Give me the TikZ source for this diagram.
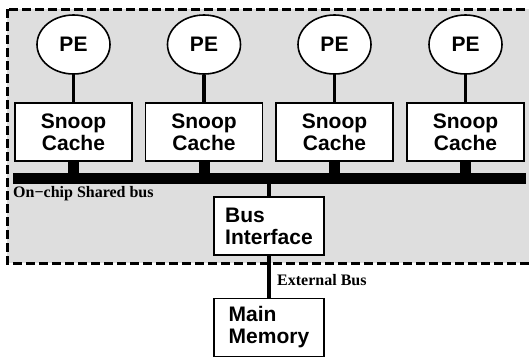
\documentclass[tikz,border=0pt]{standalone}
\usepackage{fontspec}
\setmainfont{Liberation Serif}
\setsansfont{Liberation Sans}
\usetikzlibrary{shapes.geometric}
\definecolor{chipgray}{RGB}{222,222,222}
\begin{document}
\begin{tikzpicture}[x=1bp, y=-1bp,
    pe node/.style={ellipse, draw, line width=1.6bp, fill=white, minimum width=73bp, minimum height=59bp, inner sep=0pt, font=\sffamily\bfseries\fontsize{21bp}{22bp}\selectfont},
    unit box/.style={rectangle, draw, line width=1.6bp, fill=white, minimum width=117bp, minimum height=58bp, inner sep=0pt, align=center, font=\sffamily\bfseries\fontsize{21bp}{22bp}\selectfont},
    mem box/.style={unit box, minimum width=110bp, align=left},
    bus label/.style={inner sep=0pt, font=\rmfamily\bfseries\fontsize{16bp}{18bp}\selectfont},
    wire/.style={line width=3.8bp},
    stub/.style={line width=11bp}]

    \useasboundingbox (0,0) rectangle (529,359);
    \clip (0,0) rectangle (529,359);

    % Chip area
    \draw[fill=chipgray, line width=3bp, dash pattern=on 9bp off 4bp] (7,9) rectangle (545,263);

    % Processing elements
    \node[pe node] (PE1) at (73.5,44.5) {PE};
    \node[pe node] (PE2) at (204,44.5) {PE};
    \node[pe node] (PE3) at (334.5,44.5) {PE};
    \node[pe node] (PE4) at (465.5,44.5) {PE};

    % Snoop caches
    \node[unit box] (SC1) at (73.5,132) {Snoop\\Cache};
    \node[unit box] (SC2) at (204,132) {Snoop\\Cache};
    \node[unit box] (SC3) at (334.5,132) {Snoop\\Cache};
    \node[unit box] (SC4) at (465.5,132) {Snoop\\Cache};

    % Shared bus
    \node[rectangle, fill=black, minimum width=513bp, minimum height=11bp, inner sep=0pt] (bus) at (269.5,178.5) {};
    \node[bus label, anchor=base west] (buslabel) at (13,197) {On−chip Shared bus};

    % Bus interface and memory
    \node[mem box] (BI) at (269,226) {Bus\\Interface};
    \node[mem box] (MM) at (269,327.5) {Main\\Memory};
    \node[bus label, anchor=base west] (extlabel) at (277,285) {External Bus};

    \draw[wire] (PE1) -- (SC1);
    \draw[wire] (PE2) -- (SC2);
    \draw[wire] (PE3) -- (SC3);
    \draw[wire] (PE4) -- (SC4);

    \draw[stub] (SC1.south) -- (SC1.south |- bus.north);
    \draw[stub] (SC2.south) -- (SC2.south |- bus.north);
    \draw[stub] (SC3.south) -- (SC3.south |- bus.north);
    \draw[stub] (SC4.south) -- (SC4.south |- bus.north);

    \draw[wire] (BI.north |- bus.south) -- (BI.north);
    \draw[wire] (BI) -- (MM);

\end{tikzpicture}
\end{document}
